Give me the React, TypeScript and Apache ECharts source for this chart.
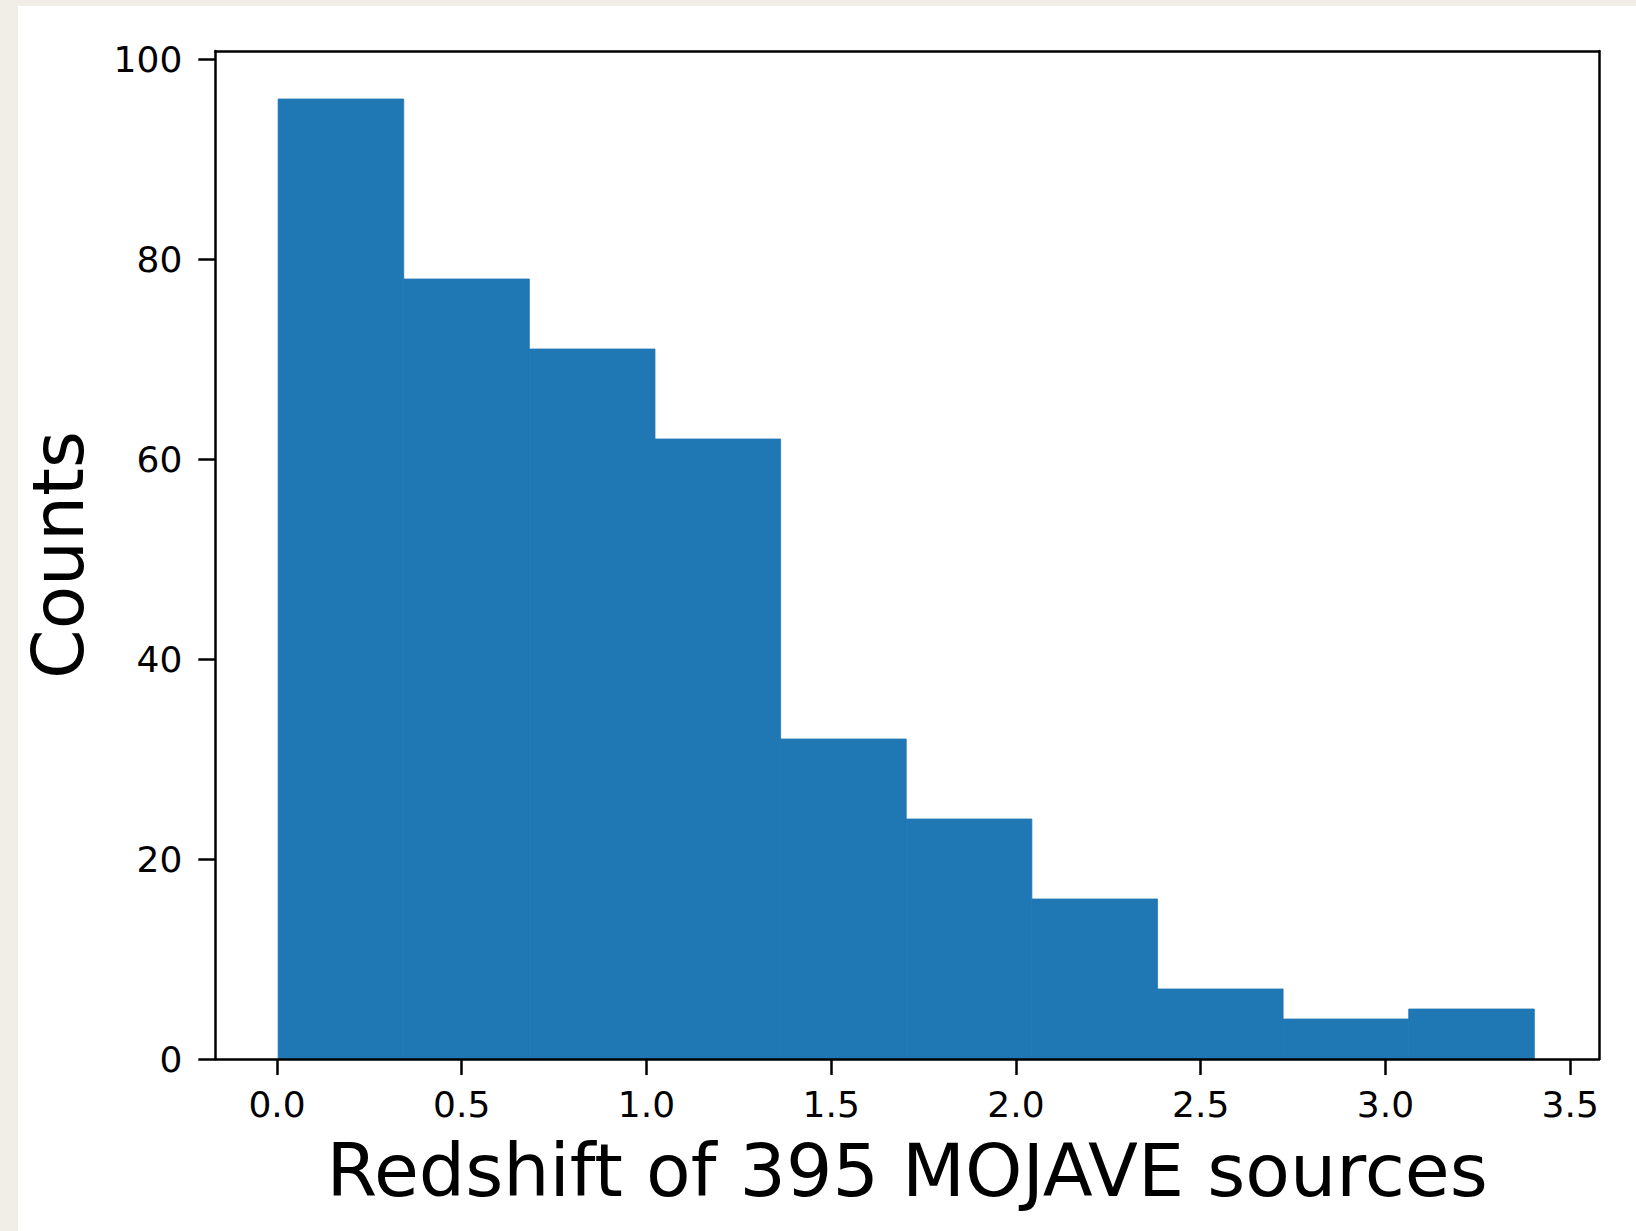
import React, { useEffect, useRef } from "react";
import * as echarts from "echarts";

// Histogram of redshifts: ten equal-width bins spanning the sample's range
const binEdges = [0.003, 0.343, 0.683, 1.023, 1.363, 1.703, 2.043, 2.383, 2.723, 3.063, 3.403];
const binCounts = [96, 78, 71, 62, 32, 24, 16, 7, 4, 5];

const xTicks = [0.0, 0.5, 1.0, 1.5, 2.0, 2.5, 3.0, 3.5];
const yTicks = [0, 20, 40, 60, 80, 100];

const xRange = [-0.167, 3.578];
const yRange = [0, 100.8];

const xTitle = "Redshift of 395 MOJAVE sources";
const yTitle = "Counts";

const FONT = "DejaVu Sans";
const BAR_COLOR = "#1f77b4";

export default function App() {
  const ref = useRef<HTMLDivElement>(null);

  useEffect(() => {
    if (!ref.current) return;
    const chart = echarts.init(ref.current, undefined, { renderer: "svg" });

    const histData = binCounts.map((c, i) => [binEdges[i], binEdges[i + 1], c]);

    const frameLine = { show: true, onZero: false, lineStyle: { color: "#000", width: 2.5 } };

    chart.setOption({
      animation: false,
      backgroundColor: "#f1eee7",
      graphic: [
        {
          type: "rect",
          z: -10,
          shape: { x: 18, y: 6, width: 1618, height: 1225 },
          style: { fill: "#ffffff" },
        },
      ],
      grid: { left: 215.3, top: 51, right: 37, bottom: 172, containLabel: false },
      xAxis: [
        {
          type: "value",
          position: "bottom",
          min: xRange[0],
          max: xRange[1],
          z: 10,
          axisLine: frameLine,
          axisTick: {
            show: true,
            inside: false,
            length: 16,
            lineStyle: { color: "#000", width: 2.5 },
            customValues: xTicks,
          },
          axisLabel: {
            show: true,
            customValues: xTicks,
            margin: 27,
            fontFamily: FONT,
            fontSize: 36,
            color: "#000",
            formatter: (v: number) => v.toFixed(1),
          },
          splitLine: { show: false },
          name: xTitle,
          nameLocation: "middle",
          nameGap: 75,
          nameTextStyle: { fontFamily: FONT, fontSize: 73, color: "#000" },
        },
        {
          type: "value",
          position: "top",
          min: xRange[0],
          max: xRange[1],
          z: 10,
          axisLine: frameLine,
          axisTick: { show: false },
          axisLabel: { show: false },
          splitLine: { show: false },
        },
      ],
      yAxis: [
        {
          type: "value",
          position: "left",
          min: yRange[0],
          max: yRange[1],
          z: 10,
          axisLine: frameLine,
          axisTick: {
            show: true,
            inside: false,
            length: 17,
            lineStyle: { color: "#000", width: 2.5 },
            customValues: yTicks,
          },
          axisLabel: {
            show: true,
            customValues: yTicks,
            margin: 33,
            fontFamily: FONT,
            fontSize: 36,
            color: "#000",
          },
          splitLine: { show: false },
          name: yTitle,
          nameLocation: "middle",
          nameRotate: 90,
          nameGap: 121,
          nameTextStyle: { fontFamily: FONT, fontSize: 71, color: "#000" },
        },
        {
          type: "value",
          position: "right",
          min: yRange[0],
          max: yRange[1],
          z: 10,
          axisLine: frameLine,
          axisTick: { show: false },
          axisLabel: { show: false },
          splitLine: { show: false },
        },
      ],
      series: [
        {
          type: "custom",
          xAxisIndex: 0,
          yAxisIndex: 0,
          data: histData,
          encode: { x: [0, 1], y: 2 },
          renderItem: (params: any, api: any) => {
            const x0 = api.value(0);
            const x1 = api.value(1);
            const c = api.value(2);
            const topLeft = api.coord([x0, c]);
            const bottomRight = api.coord([x1, 0]);
            return {
              type: "rect",
              shape: {
                x: topLeft[0],
                y: topLeft[1],
                width: bottomRight[0] - topLeft[0],
                height: bottomRight[1] - topLeft[1],
              },
              style: { fill: BAR_COLOR, stroke: BAR_COLOR, lineWidth: 0.8 },
            };
          },
        },
      ],
    });

    return () => chart.dispose();
  }, []);

  return (
    <div
      style={{ position: "fixed", left: 0, top: 0, width: 1636, height: 1231 }}
      ref={ref}
    />
  );
}
